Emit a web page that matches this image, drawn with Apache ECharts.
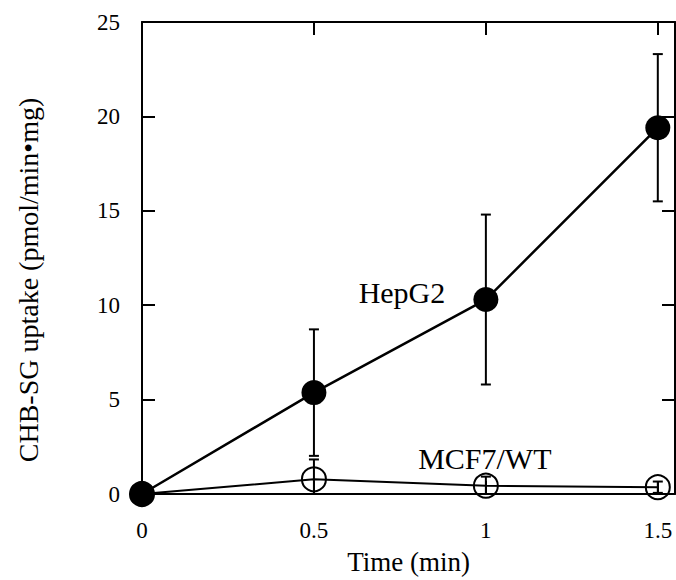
<!DOCTYPE html>
<html>
<head>
<meta charset="utf-8">
<script src="https://cdn.jsdelivr.net/npm/echarts@6/dist/echarts.min.js"></script>
<style>
  html, body { margin: 0; padding: 0; background: #fff; }
  #main { width: 676px; height: 580px; }
</style>
</head>
<body>
<div id="main"></div>
<script>
// time points (min)
var times = [0, 0.5, 1, 1.5];
// HepG2 uptake and error
var hepg2 = [0, 5.37, 10.3, 19.4];
var hepg2Err = [0, 3.35, 4.5, 3.9];
// MCF7/WT uptake and error
var mcf7 = [0, 0.78, 0.44, 0.36];
var mcf7Err = [0, 1.05, 0.48, 0.3];

var serif = "'Liberation Serif', 'DejaVu Serif', serif";

function pairs(xs, ys) {
    var out = [];
    for (var i = 0; i < xs.length; i++) out.push([xs[i], ys[i]]);
    return out;
}

//误差棒数据 [x, low, high]
function errData(xs, ys, es) {
    var out = [];
    for (var i = 0; i < xs.length; i++) {
        if (es[i] > 0) out.push([xs[i], ys[i] - es[i], ys[i] + es[i]]);
    }
    return out;
}

function renderErr(params, api) {
    var x = api.value(0);
    var top = api.coord([x, api.value(2)]);
    var bot = api.coord([x, api.value(1)]);
    var w = 5;
    var st = { stroke: '#000', lineWidth: 2 };
    return {
        type: 'group',
        children: [
            { type: 'line', shape: { x1: top[0], y1: top[1], x2: bot[0], y2: bot[1] }, style: st },
            { type: 'line', shape: { x1: top[0] - w, y1: top[1], x2: top[0] + w, y2: top[1] }, style: st },
            { type: 'line', shape: { x1: bot[0] - w, y1: bot[1], x2: bot[0] + w, y2: bot[1] }, style: st }
        ]
    };
}

var chart = echarts.init(document.getElementById('main'), null, { renderer: 'svg' });

function axisLine() {
    return { onZero: false, lineStyle: { color: '#000', width: 2 } };
}
function axisTick() {
    return { show: true, inside: true, length: 13, lineStyle: { color: '#000', width: 2 } };
}

var option = {
    animation: false,
    backgroundColor: '#fff',
    grid: { left: 142, right: 1, top: 22, bottom: 80 },
    xAxis: [{
        type: 'value',
        min: 0,
        max: 1.55,
        interval: 0.5,
        position: 'bottom',
        name: 'Time (min)',
        nameLocation: 'middle',
        nameGap: 54,
        nameTextStyle: { fontFamily: serif, fontSize: 27, color: '#000' },
        axisLine: axisLine(),
        axisTick: axisTick(),
        splitLine: { show: false },
        axisLabel: {
            showMaxLabel: false,
            margin: 25,
            fontFamily: serif,
            fontSize: 23,
            color: '#000'
        }
    }, {
        type: 'value',
        min: 0,
        max: 1.55,
        interval: 0.5,
        position: 'top',
        axisLine: axisLine(),
        axisTick: axisTick(),
        splitLine: { show: false },
        axisLabel: { show: false }
    }],
    yAxis: [{
        type: 'value',
        min: 0,
        max: 25,
        interval: 5,
        position: 'left',
        name: 'CHB-SG uptake (pmol/min•mg)',
        nameLocation: 'middle',
        nameGap: 100,
        nameTextStyle: { fontFamily: serif, fontSize: 28, color: '#000', padding: [0, 44, 0, 0] },
        axisLine: axisLine(),
        axisTick: axisTick(),
        splitLine: { show: false },
        axisLabel: { margin: 22, fontFamily: serif, fontSize: 23, color: '#000' }
    }, {
        type: 'value',
        min: 0,
        max: 25,
        interval: 5,
        position: 'right',
        axisLine: axisLine(),
        axisTick: axisTick(),
        splitLine: { show: false },
        axisLabel: { show: false }
    }],
    series: [{
        name: 'HepG2 err',
        type: 'custom',
        renderItem: renderErr,
        clip: true,
        data: errData(times, hepg2, hepg2Err),
        z: 2
    }, {
        name: 'MCF7 err',
        type: 'custom',
        renderItem: renderErr,
        clip: true,
        data: errData(times, mcf7, mcf7Err),
        z: 2
    }, {
        name: 'MCF7/WT',
        type: 'line',
        data: pairs(times, mcf7),
        symbol: 'circle',
        symbolSize: 24,
        clip: false,
        lineStyle: { color: '#000', width: 2 },
        itemStyle: { color: 'rgba(0,0,0,0)', borderColor: '#000', borderWidth: 2 },
        z: 3,
        markPoint: {
            symbol: 'circle',
            symbolSize: 0,
            label: { show: true, position: 'inside', formatter: 'MCF7/WT', fontFamily: serif, fontSize: 30, color: '#000' },
            data: [{ coord: [0.997, 1.88] }]
        }
    }, {
        name: 'HepG2',
        type: 'line',
        data: pairs(times, hepg2),
        symbol: 'circle',
        symbolSize: 25,
        clip: false,
        lineStyle: { color: '#000', width: 2.5 },
        itemStyle: { color: '#000' },
        z: 4,
        markPoint: {
            symbol: 'circle',
            symbolSize: 0,
            label: { show: true, position: 'inside', formatter: 'HepG2', fontFamily: serif, fontSize: 30, color: '#000' },
            data: [{ coord: [0.756, 10.67] }]
        }
    }]
};

chart.setOption(option);
</script>
</body>
</html>
